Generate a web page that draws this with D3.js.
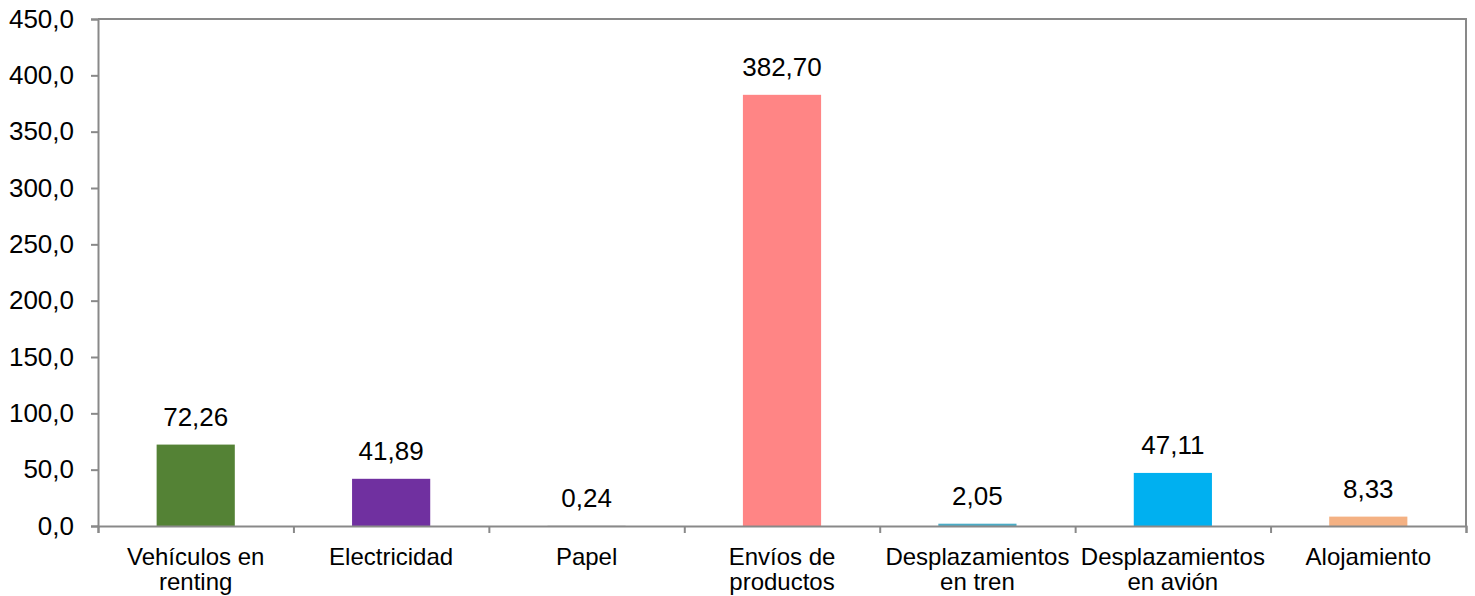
<!DOCTYPE html>
<html>
<head>
<meta charset="utf-8">
<script src="https://cdn.jsdelivr.net/npm/d3@7"></script>
<style>
  html, body { margin: 0; padding: 0; background: #fff; }
  svg { display: block; font-family: "Liberation Sans", Arial, sans-serif; }
</style>
</head>
<body>
<svg id="chart" width="1475" height="596"></svg>
<script>
// Emission sources (category labels, split into lines)
const categories = [
  ["Vehículos en", "renting"],
  ["Electricidad"],
  ["Papel"],
  ["Envíos de", "productos"],
  ["Desplazamientos", "en tren"],
  ["Desplazamientos", "en avión"],
  ["Alojamiento"]
];
const values = [72.26, 41.89, 0.24, 382.70, 2.05, 47.11, 8.33];
const colors = ["#548235", "#7030A0", "#A5A5A5", "#FF8585", "#4BACC6", "#00B0F0", "#F4B183"];
const yTicks = [0, 50, 100, 150, 200, 250, 300, 350, 400, 450];

const svg = d3.select("#chart");
const margin = { left: 98, right: 9, top: 19, bottom: 70 };
const W = 1475, H = 596;
const x0 = margin.left, x1 = W - margin.right;
const y0 = H - margin.bottom, y1 = margin.top;

const comma = v => d3.format(".1f")(v).replace(".", ",");
const comma2 = v => d3.format(".2f")(v).replace(".", ",");

const x = d3.scaleBand().domain(d3.range(categories.length)).range([x0, x1]).paddingInner(0.6).paddingOuter(0.3);
const xEdge = d3.scaleLinear().domain([0, categories.length]).range([x0, x1]);
const y = d3.scaleLinear().domain([0, 450]).range([y0, y1]);

const axisColor = "#898989";

// Plot frame (top and right)
svg.append("path")
  .attr("d", `M${x0},${y1}H${x1}V${y0}`)
  .attr("fill", "none").attr("stroke", axisColor).attr("stroke-width", 2);

// Bars
svg.append("g").selectAll("rect")
  .data(values)
  .join("rect")
  .attr("x", (d, i) => x(i))
  .attr("width", x.bandwidth())
  .attr("y", d => y(d))
  .attr("height", d => y(0) - y(d))
  .attr("fill", (d, i) => colors[i]);

// Y axis
const yAxis = d3.axisLeft(y).tickValues(yTicks).tickFormat(comma).tickSize(7).tickPadding(17);
const gy = svg.append("g").attr("transform", `translate(${x0},0)`).call(yAxis);
gy.attr("font-family", null).attr("font-size", null);
gy.select(".domain").attr("stroke", axisColor).attr("stroke-width", 2);
gy.selectAll(".tick line").attr("stroke", axisColor).attr("stroke-width", 2);
gy.selectAll(".tick text").attr("font-size", 26).attr("fill", "#000");

// X axis baseline and boundary ticks
const xAxis = d3.axisBottom(xEdge).tickValues(d3.range(categories.length + 1)).tickSize(7).tickFormat("");
const gx = svg.append("g").attr("transform", `translate(0,${y0})`).call(xAxis);
gx.select(".domain").attr("stroke", axisColor).attr("stroke-width", 2);
gx.selectAll(".tick line").attr("stroke", axisColor).attr("stroke-width", 2);

// Category labels
const lab = svg.append("g").selectAll("text")
  .data(categories)
  .join("text")
  .attr("text-anchor", "middle")
  .attr("font-size", 24)
  .attr("fill", "#000")
  .attr("x", (d, i) => x(i) + x.bandwidth() / 2)
  .attr("y", y0 + 39);
lab.selectAll("tspan")
  .data(d => d)
  .join("tspan")
  .attr("x", function () { return this.parentNode.getAttribute("x"); })
  .attr("dy", (d, i) => i === 0 ? 0 : 25)
  .text(d => d);

// Value labels
svg.append("g").selectAll("text")
  .data(values)
  .join("text")
  .attr("text-anchor", "middle")
  .attr("font-size", 26)
  .attr("fill", "#000")
  .attr("x", (d, i) => x(i) + x.bandwidth() / 2)
  .attr("y", d => y(d) - 19)
  .text(comma2);
</script>
</body>
</html>
